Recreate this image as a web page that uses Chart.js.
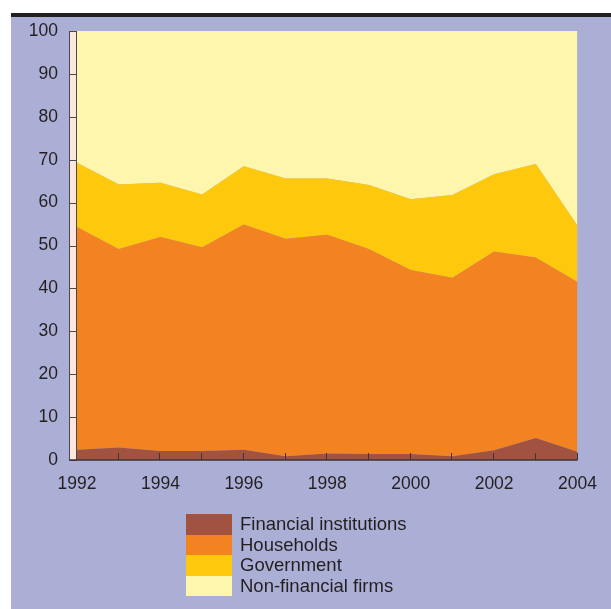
<!DOCTYPE html>
<html>
<head>
<meta charset="utf-8">
<script src="https://cdn.jsdelivr.net/npm/chart.js@4.4.1/dist/chart.umd.min.js"></script>
<style>
  html, body { margin: 0; padding: 0; background: #fff; }
  #wrap { position: relative; width: 611px; height: 609px; overflow: hidden; }
  #bar { position: absolute; left: 11px; top: 13px; width: 600px; height: 4px; background: #231f20; }
  #panel { position: absolute; left: 11px; top: 17px; width: 600px; height: 592px; background: #abafd6; }
  #chart { position: absolute; left: 0; top: 0; }
  #legend { position: absolute; left: 186px; top: 514px; font-family: "Liberation Sans", Arial, sans-serif;
            font-size: 18.5px; color: #231f20; }
  .row { display: flex; align-items: center; height: 20.5px; }
  .sw { width: 46px; height: 20.5px; margin-right: 8px; }
</style>
</head>
<body>
<div id="wrap">
  <div id="bar"></div>
  <div id="panel"></div>
  <canvas id="chart" width="611" height="609"></canvas>
  <div id="legend"></div>
</div>
<script>
// ----- Data (percent of total) -----
const years = ["1992", "1993", "1994", "1995", "1996", "1997", "1998",
               "1999", "2000", "2001", "2002", "2003", "2004"];
const financial  = [2.4, 2.9, 2.1, 2.1, 2.4, 0.9, 1.5, 1.4, 1.4, 0.9, 2.3, 5.1, 1.9];
const households = [51.9, 46.3, 49.9, 47.5, 52.5, 50.7, 51.0, 47.8, 42.9, 41.6, 46.3, 42.1, 39.6];
const government = [15.0, 15.0, 12.6, 12.3, 13.6, 14.0, 13.1, 14.9, 16.5, 19.3, 18.0, 21.8, 13.1];
const nonFinancial = [30.7, 35.8, 35.4, 38.1, 31.5, 34.4, 34.4, 35.9, 39.2, 38.2, 33.4, 31.0, 45.4];
const yTicks = [0, 10, 20, 30, 40, 50, 60, 70, 80, 90, 100];

const series = [
  { label: "Financial institutions", data: financial, color: "#a2533f" },
  { label: "Households", data: households, color: "#f38321" },
  { label: "Government", data: government, color: "#fec90d" },
  { label: "Non-financial firms", data: nonFinancial, color: "#fff6ae" }
];

const FONT = "'Liberation Sans', Arial, sans-serif";
const INK = "#231f20";

// ----- Axis decorations: pink y strip, x baseline and ticks -----
const axisDeco = {
  id: "axisDeco",
  afterDatasetsDraw(chart) {
    const { ctx, chartArea: { left, right, top, bottom }, scales: { x, y } } = chart;
    ctx.save();
    // y strip
    ctx.fillStyle = "#fde6de";
    ctx.fillRect(left - 7, top, 7, bottom - top);
    ctx.strokeStyle = "#4a4a4a";
    ctx.lineWidth = 1;
    ctx.beginPath();
    ctx.moveTo(left - 7.5, top); ctx.lineTo(left - 7.5, bottom);
    ctx.moveTo(left - 0.5, top); ctx.lineTo(left - 0.5, bottom);
    ctx.moveTo(left - 7, top + 0.5); ctx.lineTo(left, top + 0.5);
    yTicks.forEach((v) => {
      const py = Math.round(y.getPixelForValue(v)) + 0.5;
      ctx.moveTo(left - 7, py); ctx.lineTo(left, py);
    });
    ctx.stroke();
    // x baseline
    ctx.strokeStyle = "#3b3536";
    ctx.lineWidth = 1.6;
    ctx.beginPath();
    ctx.moveTo(left - 8, bottom); ctx.lineTo(right, bottom);
    ctx.stroke();
    // x ticks (pointing up into the plot)
    ctx.lineWidth = 1;
    ctx.beginPath();
    years.forEach((_, i) => {
      if (i === 0) return;
      const px = Math.round(x.getPixelForValue(i)) - 0.5;
      ctx.moveTo(px, bottom); ctx.lineTo(px, bottom - 7);
    });
    ctx.stroke();
    ctx.restore();
  }
};

// ----- Chart -----
const chart = new Chart(document.getElementById("chart"), {
  type: "line",
  data: {
    labels: years,
    datasets: series.map((s, i) => ({
      label: s.label,
      data: s.data,
      backgroundColor: s.color,
      borderColor: s.color,
      borderWidth: 0,
      pointRadius: 0,
      tension: 0,
      fill: i === 0 ? "origin" : "-1"
    }))
  },
  options: {
    animation: false,
    responsive: false,
    devicePixelRatio: 1,
    layout: { padding: { left: 0, top: 31, right: 33, bottom: 0 } },
    plugins: { legend: { display: false }, tooltip: { enabled: false } },
    scales: {
      x: {
        offset: false,
        grid: { display: false, drawTicks: false },
        border: { display: false },
        afterFit: (s) => { s.height = 149; },
        ticks: {
          autoSkip: false,
          maxRotation: 0,
          padding: 14,
          color: INK,
          font: { family: FONT, size: 17.5 },
          callback: (v, i) => (i % 2 === 0 ? years[i] : "")
        }
      },
      y: {
        stacked: true,
        min: 0,
        max: 100,
        grid: { display: false, drawTicks: false },
        border: { display: false },
        afterFit: (s) => { s.width = 77; },
        ticks: {
          stepSize: 10,
          padding: 19,
          color: INK,
          font: { family: FONT, size: 17.5 }
        }
      }
    }
  },
  plugins: [axisDeco]
});

// ----- Legend (vertical stack under the chart) -----
const legend = document.getElementById("legend");
series.forEach((s) => {
  const row = document.createElement("div");
  row.className = "row";
  row.innerHTML = `<div class="sw" style="background:${s.color}"></div><span>${s.label}</span>`;
  legend.appendChild(row);
});
</script>
</body>
</html>
